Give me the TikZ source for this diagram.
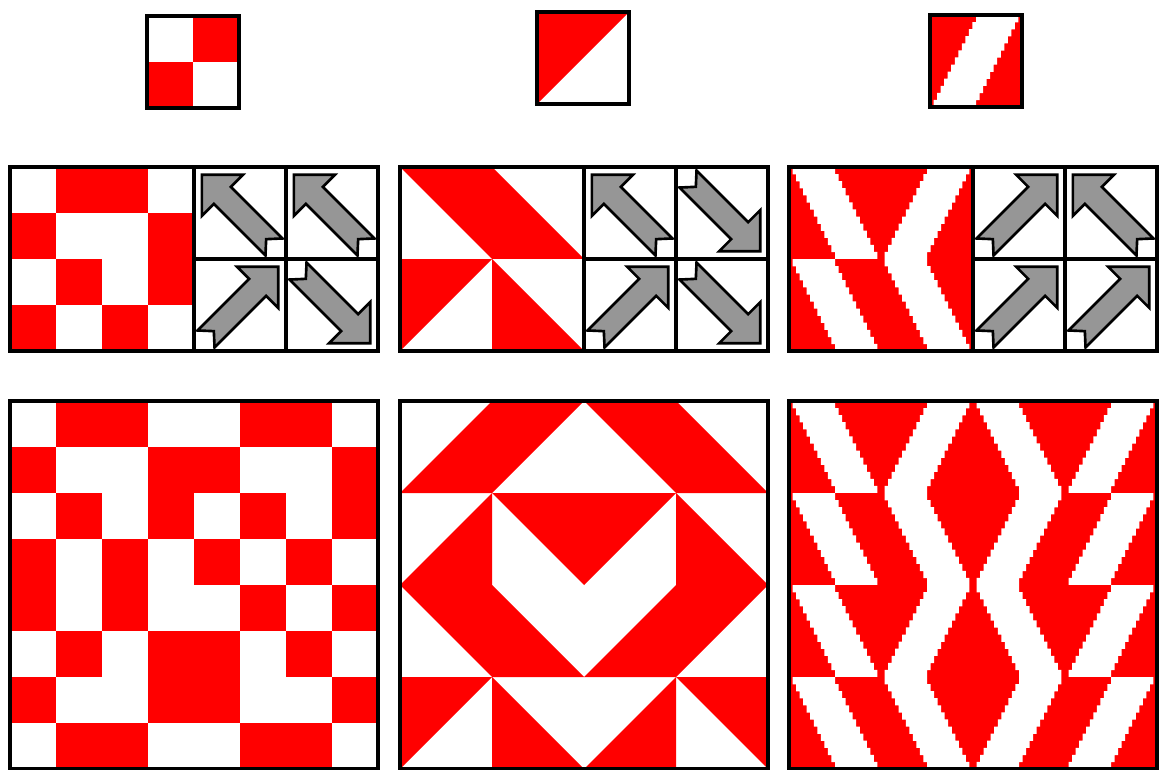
\documentclass[tikz,border=0pt]{standalone}
\usepackage{tikz}
\usetikzlibrary{calc}

\definecolor{rojo}{RGB}{255,0,0}
\definecolor{grisflecha}{RGB}{150,150,150}

\tikzset{
  marco/.style={draw=black, line width=2pt},
  rejilla/.style={draw=black, line width=1.9pt},
  parteroja/.style={fill=rojo},
  flecha/.style={fill=grisflecha, draw=black, line width=1.5pt, line join=miter}
}

\newcommand{\lado}{92}

% Baldosa de cuadros: #3 = 1 normal, -1 espejo
\newcommand{\cuadros}[3]{
    \begin{scope}[shift={(#1+\lado/2,#2+\lado/2)}, xscale={#3*\lado}, yscale=\lado]
        \fill[parteroja] (0,-0.5) rectangle (0.5,0);
        \fill[parteroja] (-0.5,0) rectangle (0,0.5);
    \end{scope}
}

% Baldosa de triangulos: #3 espejo horizontal, #4 espejo vertical
\newcommand{\triangulos}[4]{
    \begin{scope}[shift={(#1+\lado/2,#2+\lado/2)}, xscale={#3*\lado}, yscale={#4*\lado}]
        \fill[parteroja] (-0.5,-0.5) -- (0.5,-0.5) -- (-0.5,0.5) -- cycle;
    \end{scope}
}

% Baldosa de franja pixelada: #3 = 1 normal, -1 espejo
\newcommand{\franja}[3]{
    \begin{scope}[shift={(#1+\lado/2,#2+\lado/2)}, xscale={#3*\lado/26}, yscale={\lado/26}]
        \fill[parteroja] (-13,-13) rectangle (13,13);
        \fill[white] \foreach \r in {0,...,12} {(-\r,2*\r-13) rectangle (12-\r,2*\r-10.95)};
    \end{scope}
}

% Flecha gris en el centro de una celda
\newcommand{\flechagris}[3]{
    \draw[flecha, shift={(#1,#2)}, rotate=#3]
        (54,0) -- (25,29) -- (25,12) -- (-48,12) -- (-37,0) -- (-48,-12) -- (25,-12) -- (25,-29) -- cycle;
}

% Rejilla y marco de un panel central
\newcommand{\marcopanel}[2]{
    \draw[rejilla] (#1+2*\lado,#2) -- ++(0,2*\lado);
    \draw[rejilla] (#1+3*\lado,#2) -- ++(0,2*\lado);
    \draw[rejilla] (#1+2*\lado,#2+\lado) -- ++(2*\lado,0);
    \draw[marco] (#1,#2) rectangle ++(4*\lado,2*\lado);
}

\begin{document}
\begin{tikzpicture}[x=0.02cm, y=-0.02cm]
    \fill[white] (0,0) rectangle (1159,770);
    \useasboundingbox (0,0) rectangle (1159,770);

    % ==========================================
    % 1. Baldosas base (fila superior)
    % ==========================================
    \cuadros{147}{16}{1}
    \draw[marco] (147,16) rectangle ++(\lado,\lado);
    \triangulos{537}{12}{1}{1}
    \draw[marco] (537,12) rectangle ++(\lado,\lado);
    \franja{930}{15}{1}
    \draw[marco] (930,15) rectangle ++(\lado,\lado);

    % ==========================================
    % 2. Orientaciones (fila central)
    % ==========================================
    \foreach \c/\f/\s in {0/0/1, 1/0/-1, 0/1/1, 1/1/1} {
        \cuadros{10+\c*\lado}{167+\f*\lado}{\s}
    }
    \foreach \c/\f/\sx/\sy in {0/0/-1/1, 1/0/1/-1, 0/1/1/1, 1/1/1/-1} {
        \triangulos{400+\c*\lado}{167+\f*\lado}{\sx}{\sy}
    }
    \foreach \c/\f/\s in {0/0/-1, 1/0/1, 0/1/-1, 1/1/-1} {
        \franja{789+\c*\lado}{167+\f*\lado}{\s}
    }

    % Flechas de giro
    \foreach \x/\c/\f/\ang in {10/0/0/135, 10/1/0/135, 10/0/1/45, 10/1/1/-45,
                              400/0/0/135, 400/1/0/-45, 400/0/1/45, 400/1/1/-45,
                              789/0/0/45, 789/1/0/135, 789/0/1/45, 789/1/1/45} {
        \flechagris{\x+2.5*\lado+\c*\lado}{167+\lado/2+\f*\lado}{\ang}
    }

    \marcopanel{10}{167}
    \marcopanel{400}{167}
    \marcopanel{789}{167}

    % ==========================================
    % 3. Mosaicos 4x4 (fila inferior)
    % ==========================================
    \foreach \c/\f/\s in {0/0/1, 1/0/-1, 2/0/1, 3/0/-1,
                          0/1/1, 1/1/1, 2/1/1, 3/1/1,
                          0/2/-1, 1/2/-1, 2/2/1, 3/2/1,
                          0/3/-1, 1/3/1, 2/3/-1, 3/3/1} {
        \cuadros{10+\c*\lado}{401+\f*\lado}{\s}
    }
    \draw[marco] (10,401) rectangle ++(4*\lado,4*\lado);

    \foreach \c/\f/\sx/\sy in {0/0/-1/-1, 1/0/1/1, 2/0/-1/1, 3/0/1/-1,
                               0/1/-1/-1, 1/1/-1/1, 2/1/1/1, 3/1/1/-1,
                               0/2/-1/1, 1/2/1/-1, 2/2/-1/-1, 3/2/1/1,
                               0/3/1/1, 1/3/1/-1, 2/3/-1/-1, 3/3/-1/1} {
        \triangulos{400+\c*\lado}{401+\f*\lado}{\sx}{\sy}
    }
    \draw[marco] (400,401) rectangle ++(4*\lado,4*\lado);

    \foreach \c/\f/\s in {0/0/-1, 1/0/1, 2/0/-1, 3/0/1,
                          0/1/-1, 1/1/-1, 2/1/1, 3/1/1,
                          0/2/-1, 1/2/1, 2/2/-1, 3/2/1,
                          0/3/-1, 1/3/-1, 2/3/1, 3/3/1} {
        \franja{789+\c*\lado}{401+\f*\lado}{\s}
    }
    \draw[marco] (789,401) rectangle ++(4*\lado,4*\lado);

\end{tikzpicture}
\end{document}
